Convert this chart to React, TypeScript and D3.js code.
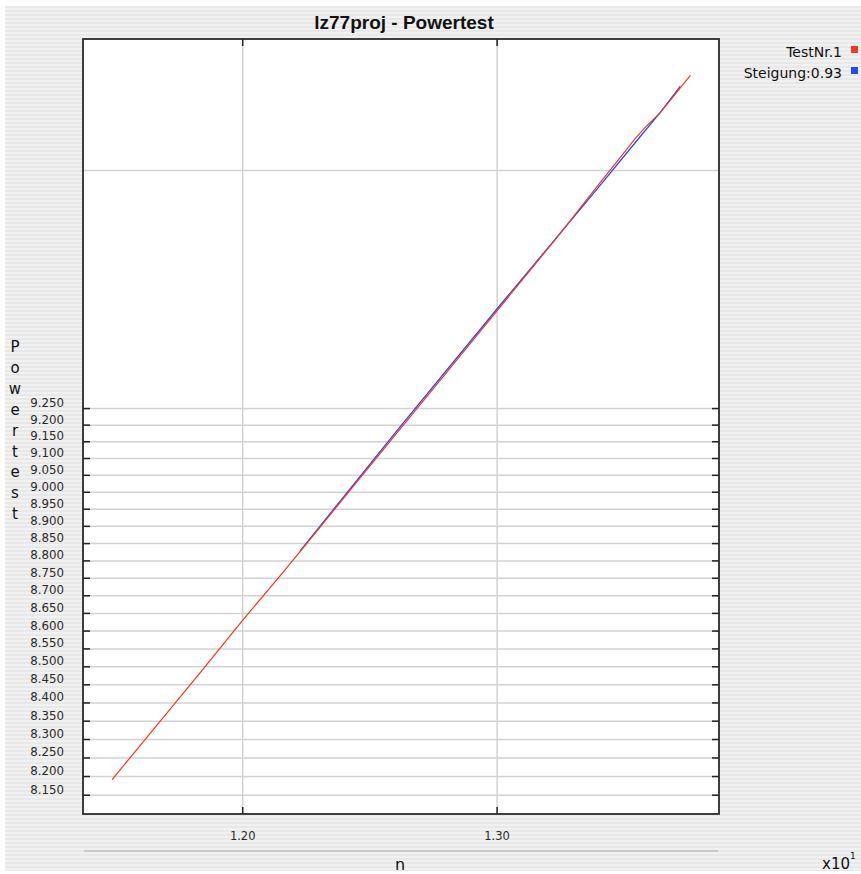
import * as d3 from "d3";

// red data series (TestNr.1)
const testN = [1.1517, 1.1655, 1.184, 1.1998, 1.2142, 1.2296, 1.2451, 1.2609, 1.2769, 1.2931, 1.3095, 1.3261, 1.3429, 1.3514, 1.3577, 1.362, 1.3685, 1.3815];
const testPower = [8.192, 8.316, 8.483, 8.629, 8.757, 8.898, 9.042, 9.188, 9.336, 9.487, 9.64, 9.796, 9.961, 10.043, 10.105, 10.142, 10.191, 10.316];

// blue fit (Steigung:0.93)
const fitN = [1.2219, 1.2609, 1.3013, 1.3429, 1.3599, 1.3685, 1.3771];
const fitPower = [8.829, 9.195, 9.569, 9.952, 10.112, 10.192, 10.279];

const xTicks = [1.2, 1.3];
const xTickLabels = ["1.20", "1.30"];
const yTicks = [8.15, 8.2, 8.25, 8.3, 8.35, 8.4, 8.45, 8.5, 8.55, 8.6, 8.65, 8.7, 8.75, 8.8, 8.85, 8.9, 8.95, 9.0, 9.05, 9.1, 9.15, 9.2, 9.25];
const yExtraGrid = [10];

const legendItems = [
  { label: "TestNr.1", color: "#f5371d" },
  { label: "Steigung:0.93", color: "#2648f5" },
];

const yTitle = "Powertest".split("");

const W = 861;
const H = 874;
const plot = { left: 83, right: 719, top: 39, bottom: 814 };

export default function App() {
  const x = d3.scaleLog().domain([1.1412, 1.394]).range([plot.left, plot.right]);
  const y = d3.scaleLog().domain([8.1, 10.44]).range([plot.bottom, plot.top]);

  const line = d3
    .line<[number, number]>()
    .x((d) => x(d[0]))
    .y((d) => y(d[1]));

  const redPts = testN.map((n, i) => [n, testPower[i]] as [number, number]);
  const bluePts = fitN.map((n, i) => [n, fitPower[i]] as [number, number]);

  const titleFont = "'Liberation Sans', Arial, Helvetica, sans-serif";
  const font = "'DejaVu Sans', Verdana, sans-serif";

  return (
    <svg
      width={W}
      height={H}
      style={{ position: "absolute", left: 0, top: 0, background: "#fff" }}
      fontFamily={font}
    >
      <defs>
        <pattern id="stripes" width="4" height="4" patternUnits="userSpaceOnUse">
          <rect x="0" y="0" width="4" height="2" fill="#f1f1f1" />
          <rect x="0" y="2" width="4" height="2" fill="#e8e8e8" />
        </pattern>
      </defs>
      <rect x={5} y={6} width={W - 5} height={865} fill="url(#stripes)" />

      {/* title */}
      <text x={404} y={29} textAnchor="middle" fontSize={19} fontWeight="bold" fill="#111" fontFamily={titleFont}>
        lz77proj - Powertest
      </text>

      {/* plot area */}
      <rect
        x={plot.left}
        y={plot.top}
        width={plot.right - plot.left}
        height={plot.bottom - plot.top}
        fill="#fff"
      />

      {/* grid */}
      {[...yTicks, ...yExtraGrid].map((t) => (
        <line key={"gy" + t} x1={plot.left} x2={plot.right} y1={y(t)} y2={y(t)} stroke="#d2d2d2" strokeWidth={1.5} />
      ))}
      {xTicks.map((t) => (
        <line key={"gx" + t} x1={x(t)} x2={x(t)} y1={plot.top} y2={plot.bottom} stroke="#d2d2d2" strokeWidth={1.5} />
      ))}

      {/* ticks */}
      {yTicks.map((t) => (
        <g key={"ty" + t}>
          <line x1={plot.left} x2={plot.left + 7} y1={y(t)} y2={y(t)} stroke="#222" strokeWidth={1.5} />
          <line x1={plot.right - 7} x2={plot.right} y1={y(t)} y2={y(t)} stroke="#222" strokeWidth={1.5} />
          <text x={64} y={y(t) - 1.5} textAnchor="end" fontSize={11.8} fill="#2a2a2a">
            {d3.format(".3f")(t)}
          </text>
        </g>
      ))}
      {xTicks.map((t, i) => (
        <g key={"tx" + t}>
          <line x1={x(t)} x2={x(t)} y1={plot.top} y2={plot.top + 7} stroke="#222" strokeWidth={1.5} />
          <line x1={x(t)} x2={x(t)} y1={plot.bottom - 7} y2={plot.bottom} stroke="#222" strokeWidth={1.5} />
          <text x={x(t)} y={840} textAnchor="middle" fontSize={11.5} fill="#2a2a2a">
            {xTickLabels[i]}
          </text>
        </g>
      ))}

      {/* series */}
      <path d={line(bluePts) ?? ""} fill="none" stroke="#2648f5" strokeWidth={1.3} />
      <path d={line(redPts) ?? ""} fill="none" stroke="#f5371d" strokeWidth={1.2} />

      {/* frame */}
      <rect
        x={plot.left}
        y={plot.top}
        width={plot.right - plot.left}
        height={plot.bottom - plot.top}
        fill="none"
        stroke="#2b2b2b"
        strokeWidth={1.8}
      />

      {/* y title, stacked letters */}
      {yTitle.map((c, i) => (
        <text key={"yt" + i} x={15} y={352 + i * 20.9} textAnchor="middle" fontSize={15} fill="#111">
          {c}
        </text>
      ))}

      {/* x title */}
      <line x1={84} x2={718} y1={851} y2={851} stroke="#c9c9c9" strokeWidth={2} />
      <text x={400} y={870} textAnchor="middle" fontSize={16} fill="#111">
        n
      </text>
      <text x={822} y={869} fontSize={15} fill="#111">
        x10
      </text>
      <text x={850} y={859} fontSize={9} fill="#111">
        1
      </text>

      {/* legend */}
      {legendItems.map((d, i) => (
        <g key={d.label}>
          <text x={842} y={57 + i * 21} textAnchor="end" fontSize={14} fill="#111">
            {d.label}
          </text>
          <rect x={851} y={46 + i * 21} width={7} height={7} fill={d.color} />
        </g>
      ))}
    </svg>
  );
}
